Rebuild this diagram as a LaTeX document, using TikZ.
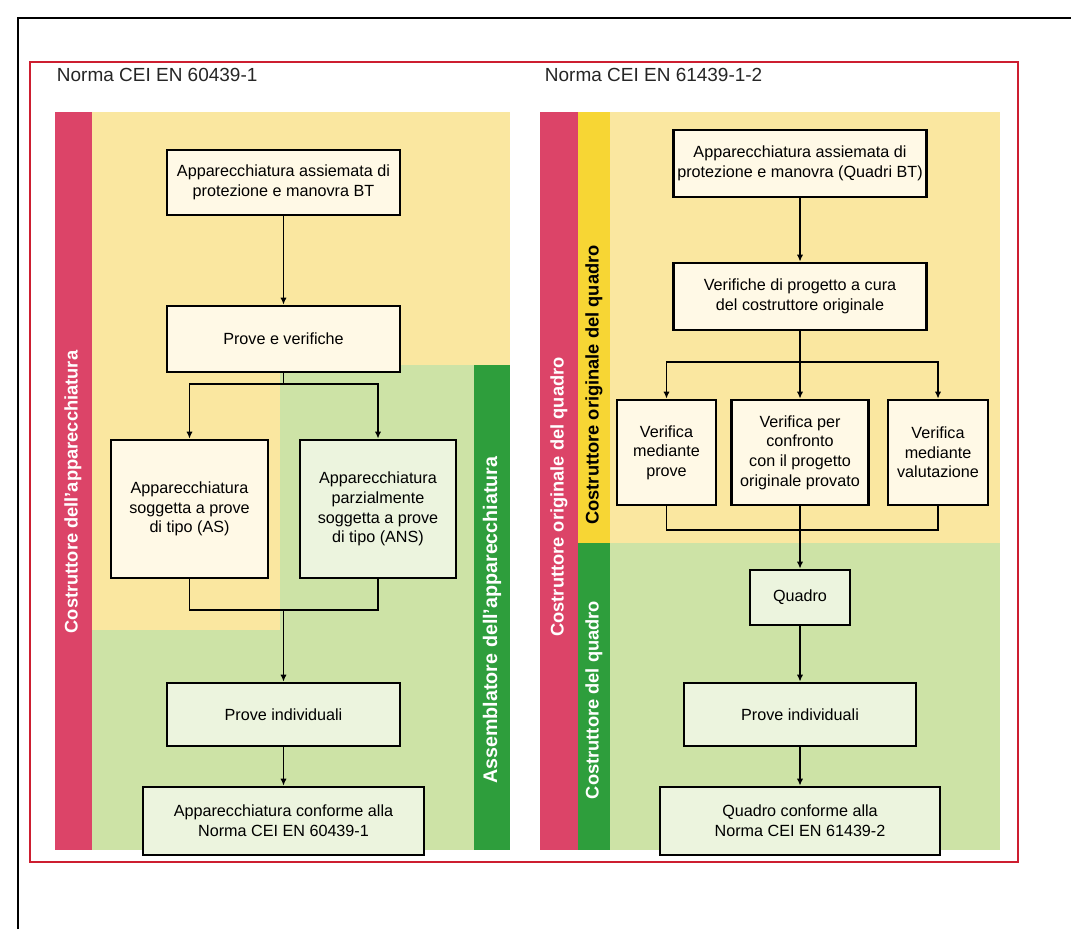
\documentclass[tikz,border=0pt]{standalone}
\usepackage{fontspec}
\setmainfont{Liberation Sans}
\usetikzlibrary{arrows.meta}
\definecolor{barred}{RGB}{220,68,104}
\definecolor{bargreen}{RGB}{46,158,60}
\definecolor{baryellow}{RGB}{247,214,52}
\definecolor{paleyellow}{RGB}{250,231,160}
\definecolor{palegreen}{RGB}{205,227,166}
\definecolor{boxyellow}{RGB}{255,249,230}
\definecolor{boxgreen}{RGB}{236,244,222}
\definecolor{framered}{RGB}{205,30,48}

\begin{document}
\begin{tikzpicture}[x=0.025cm,y=-0.025cm,
  stepbox/.style={draw=black,line width=1.9pt,align=center,inner sep=2pt,font=\fontsize{11.5}{14}\selectfont},
  ybox/.style={stepbox,fill=boxyellow},
  gbox/.style={stepbox,fill=boxgreen},
  sidelabel/.style={rotate=90,font=\bfseries\fontsize{13}{15}\selectfont,text=white},
  paneltitle/.style={anchor=west,font=\fontsize{13.5}{16}\selectfont,text=black!85},
  conn/.style={line width=1.4pt},
  >={Latex[length=5pt,width=4.5pt]}]
\useasboundingbox (0,0) rectangle (1071,929);
\fill[white] (0,0) rectangle (1071,929);
\draw[line width=1.1pt] (18,929) -- (18,18) -- (1071,18);
\draw[framered,line width=2pt] (30,62) rectangle (1018,862);

\fill[paleyellow] (92,112) rectangle (510,630);
\fill[palegreen] (280,365) rectangle (474,850);
\fill[palegreen] (92,630) rectangle (474,850);
\fill[barred] (55,112) rectangle (92,850);
\fill[bargreen] (474,365) rectangle (510,850);

\fill[paleyellow] (610,112) rectangle (1000,543);
\fill[palegreen] (610,543) rectangle (1000,850);
\fill[barred] (540,112) rectangle (578,850);
\fill[baryellow] (578,112) rectangle (610,543);
\fill[bargreen] (578,543) rectangle (610,850);

\node[paneltitle] (lefttitle) at (52,75) {Norma CEI EN 60439-1};
\node[paneltitle] (righttitle) at (540,75) {Norma CEI EN 61439-1-2};

\node[sidelabel] (lmaker) at (73,492) {Costruttore dell'apparecchiatura};
\node[sidelabel,font=\bfseries\fontsize{14}{16}\selectfont] (assembler) at (492,620) {Assemblatore dell'apparecchiatura};
\node[sidelabel] (rmaker) at (559,497) {Costruttore originale del quadro};
\node[sidelabel,text=black] (origmaker) at (594,385) {Costruttore originale del quadro};
\node[sidelabel] (panelmaker) at (594,700) {Costruttore del quadro};

\node[ybox,minimum width=5.825cm,minimum height=1.625cm] (a1) at (283.5,182.5) {Apparecchiatura assiemata di\\protezione e manovra BT};
\node[ybox,minimum width=5.825cm,minimum height=1.65cm] (a2) at (283.5,339) {Prove e verifiche};
\node[ybox,minimum width=3.925cm,minimum height=3.45cm] (a3) at (189.5,509) {Apparecchiatura\\soggetta a prove\\di tipo (AS)};
\node[gbox,minimum width=3.9cm,minimum height=3.45cm] (a4) at (378,509) {Apparecchiatura\\parzialmente\\soggetta a prove\\di tipo (ANS)};
\node[gbox,minimum width=5.825cm,minimum height=1.575cm] (a5) at (283.5,714.5) {Prove individuali};
\node[gbox,minimum width=7.025cm,minimum height=1.7cm] (a6) at (283.5,821) {Apparecchiatura conforme alla\\Norma CEI EN 60439-1};
\coordinate (asplit) at (283.5,384);
\coordinate (ajoin) at (283.5,610);

\draw[conn,->] (a1) -- (a2);
\draw[conn] (a2) -- (asplit);
\draw[conn,->] (asplit) -| (a3);
\draw[conn,->] (asplit) -| (a4);
\draw[conn] (a3) |- (ajoin);
\draw[conn] (a4) |- (ajoin);
\draw[conn,->] (ajoin) -- (a5);
\draw[conn,->] (a5) -- (a6);

\node[ybox,minimum width=6.325cm,minimum height=1.675cm] (b1) at (800,163.5) {Apparecchiatura assiemata di\\protezione e manovra (Quadri BT)};
\node[ybox,minimum width=6.325cm,minimum height=1.675cm] (b2) at (800,296.5) {Verifiche di progetto a cura\\del costruttore originale};
\node[ybox,minimum width=2.475cm,minimum height=2.625cm] (b3) at (666.5,452.5) {Verifica\\mediante\\prove};
\node[ybox,minimum width=3.425cm,minimum height=2.625cm] (b4) at (800,452.5) {Verifica per\\confronto\\con il progetto\\originale provato};
\node[ybox,minimum width=2.5cm,minimum height=2.625cm] (b5) at (938,452.5) {Verifica\\mediante\\valutazione};
\node[gbox,minimum width=2.5cm,minimum height=1.375cm] (b6) at (800,597.5) {Quadro};
\node[gbox,minimum width=5.8cm,minimum height=1.575cm] (b7) at (800,714.5) {Prove individuali};
\node[gbox,minimum width=7.0cm,minimum height=1.7cm] (b8) at (800,821) {Quadro conforme alla\\Norma CEI EN 61439-2};
\coordinate (bsplit) at (800,362);
\coordinate (bjoin) at (800,530);

\draw[conn,->] (b1) -- (b2);
\draw[conn] (b2) -- (bsplit);
\draw[conn,->] (bsplit) -| (b3);
\draw[conn,->] (bsplit) -- (b4);
\draw[conn,->] (bsplit) -| (b5);
\draw[conn] (b3) |- (bjoin);
\draw[conn] (b5) |- (bjoin);
\draw[conn] (b4) -- (bjoin);
\draw[conn,->] (bjoin) -- (b6);
\draw[conn,->] (b6) -- (b7);
\draw[conn,->] (b7) -- (b8);
\end{tikzpicture}
\end{document}
